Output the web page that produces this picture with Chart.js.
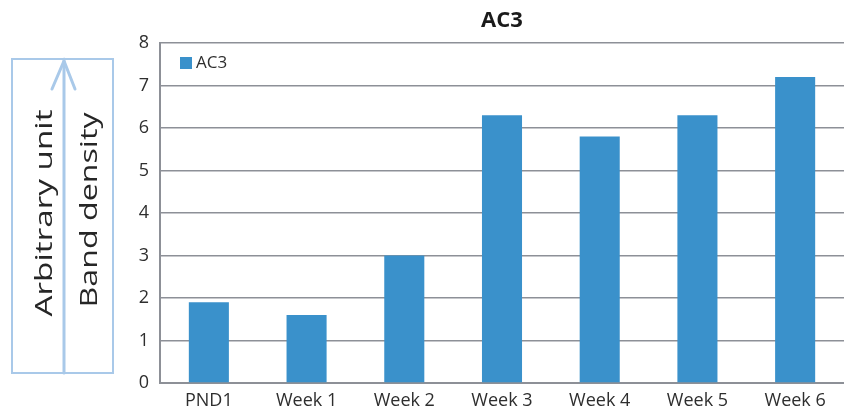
<!DOCTYPE html>
<html>
<head>
<meta charset="utf-8">
<script src="https://cdn.jsdelivr.net/npm/chart.js@4/dist/chart.umd.min.js"></script>
<style>
  html, body { margin: 0; padding: 0; background: #ffffff; }
  #wrap { position: relative; width: 844px; height: 412px; }
</style>
</head>
<body>
<div id="wrap"><canvas id="chart" width="844" height="412"></canvas></div>
<script>
// Band density of AC3 over developmental time points
const categories = ['PND1', 'Week 1', 'Week 2', 'Week 3', 'Week 4', 'Week 5', 'Week 6'];
const ac3Values = [1.9, 1.6, 3.0, 6.3, 5.8, 6.3, 7.2];
const seriesName = 'AC3';
const chartTitle = 'AC3';
const yMin = 0, yMax = 8, yStep = 1;
const sideLabels = ['Arbitrary unit', 'Band density'];

const FONT = '"Open Sans", "Liberation Sans", sans-serif';
const BAR_COLOR = '#3a91cb';
const GRID_COLOR = '#8d9097';
const TEXT_COLOR = '#2e2e2e';
const FRAME_COLOR = '#a9c9e9';

// Title centred over the plot area, legend inside its top-left corner
const titleAndLegend = {
  id: 'titleAndLegend',
  afterDraw(chart) {
    const { ctx, chartArea } = chart;
    ctx.save();
    ctx.fillStyle = '#1a1a1a';
    ctx.font = 'bold 22px ' + FONT;
    ctx.textAlign = 'center';
    ctx.textBaseline = 'middle';
    ctx.fillText(chartTitle, (chartArea.left + chartArea.right) / 2, 21);

    const lx = chartArea.left + 20, ly = chartArea.top + 14;
    ctx.fillStyle = chart.data.datasets[0].backgroundColor;
    ctx.fillRect(lx, ly, 12, 12);
    ctx.fillStyle = TEXT_COLOR;
    ctx.font = '17px ' + FONT;
    ctx.textAlign = 'left';
    ctx.fillText(chart.data.datasets[0].label, lx + 16, ly + 6.5);
    ctx.restore();
  }
};

// Framed upward arrow with the two stacked axis captions on the left
const sideCaption = {
  id: 'sideCaption',
  afterDraw(chart) {
    const ctx = chart.ctx;
    ctx.save();
    ctx.strokeStyle = FRAME_COLOR;
    ctx.lineWidth = 2;
    ctx.strokeRect(12, 59, 101, 314);

    ctx.lineWidth = 3;
    ctx.lineCap = 'round';
    ctx.beginPath();
    ctx.moveTo(64, 373);
    ctx.lineTo(64, 61);
    ctx.stroke();
    ctx.beginPath();
    ctx.moveTo(52, 89);
    ctx.lineTo(64, 61);
    ctx.lineTo(75, 89);
    ctx.stroke();

    const captions = [
      { text: sideLabels[0], x: 52, y: 213, len: 207 },
      { text: sideLabels[1], x: 97, y: 210, len: 195 }
    ];
    ctx.fillStyle = '#262626';
    ctx.font = '23px ' + FONT;
    ctx.textAlign = 'center';
    ctx.textBaseline = 'alphabetic';
    captions.forEach(c => {
      const w = ctx.measureText(c.text).width;
      ctx.save();
      ctx.translate(c.x, c.y);
      ctx.rotate(-Math.PI / 2);
      ctx.scale(c.len / w, 1);
      ctx.fillText(c.text, 0, 0);
      ctx.restore();
    });
    ctx.restore();
  }
};

new Chart(document.getElementById('chart'), {
  type: 'bar',
  data: {
    labels: categories,
    datasets: [{
      label: seriesName,
      data: ac3Values,
      backgroundColor: BAR_COLOR,
      borderWidth: 0,
      barPercentage: 0.41,
      categoryPercentage: 1.0
    }]
  },
  options: {
    responsive: false,
    animation: false,
    devicePixelRatio: 1,
    layout: { padding: { left: 120, right: 0, top: 43, bottom: 0 } },
    plugins: {
      legend: { display: false },
      title: { display: false },
      tooltip: { enabled: false }
    },
    scales: {
      x: {
        grid: { display: false, drawTicks: false },
        border: { display: true, color: GRID_COLOR, width: 2 },
        ticks: { color: TEXT_COLOR, font: { family: FONT, size: 18 }, padding: 7, maxRotation: 0 },
        afterFit(scale) { scale.height = 29; }
      },
      y: {
        min: yMin,
        max: yMax,
        grid: { color: GRID_COLOR, lineWidth: 1.6, drawTicks: false },
        border: { display: true, color: GRID_COLOR, width: 2 },
        ticks: { stepSize: yStep, color: TEXT_COLOR, font: { family: FONT, size: 18 }, padding: 11 },
        afterFit(scale) { scale.width = 40; }
      }
    }
  },
  plugins: [titleAndLegend, sideCaption]
});
</script>
</body>
</html>
